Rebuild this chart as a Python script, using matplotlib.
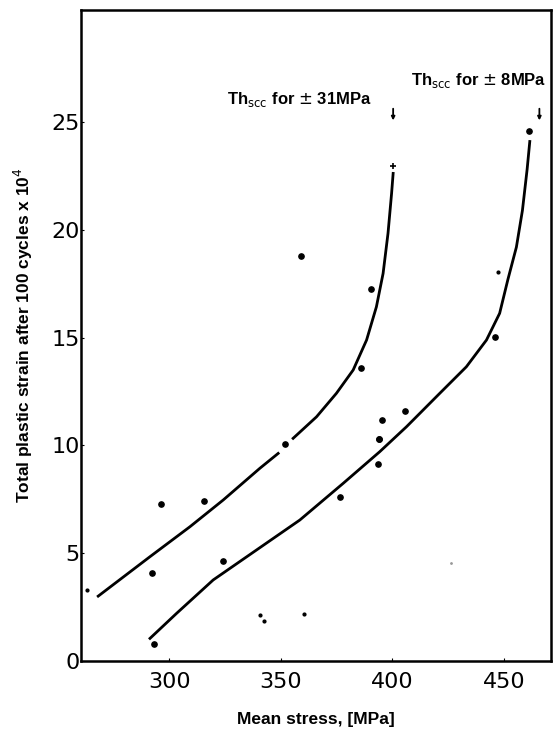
import matplotlib.pyplot as plt

# scattered test points (mean stress MPa, plastic strain x10^4)
big_x = [296.3, 315.5, 292.1, 324.2, 293.2, 376.4, 393.6, 394.0, 351.8, 394.0, 395.5, 405.5, 385.8, 390.3, 359.0, 446.1, 461.2]
big_y = [7.27, 7.44, 4.07, 4.62, 0.77, 7.59, 9.12, 10.3, 10.07, 10.3, 11.18, 11.6, 13.6, 17.27, 18.78, 15.04, 24.6]
small_x = [263.3, 340.7, 342.5, 360.3, 447.3]
small_y = [3.29, 2.15, 1.84, 2.18, 18.03]
speck_x = [426]
speck_y = [4.53]
plus_x = [400.3]
plus_y = [22.97]

# fitted curve for +-31 MPa (drawn in two pieces, broken near 352)
c1a_x = [268.2, 291.4, 309.3, 324.2, 340.6, 348.8]
c1a_y = [3.01, 4.84, 6.23, 7.47, 8.94, 9.63]
c1b_x = [355.5, 366.0, 374.9, 382.4, 388.4, 392.8, 395.8, 398.0, 399.6, 400.3]
c1b_y = [10.33, 11.33, 12.42, 13.5, 14.89, 16.43, 17.98, 19.84, 21.69, 22.62]

# fitted curve for +-8 MPa
c2_x = [291.4, 303.3, 319.7, 339.1, 358.5, 377.9, 394.3, 406.3, 421.2, 433.1, 442.1, 448.0, 451.7, 455.5, 458.2, 460.3, 461.5]
c2_y = [1.05, 2.21, 3.76, 5.15, 6.54, 8.24, 9.71, 10.87, 12.42, 13.65, 14.89, 16.13, 17.7, 19.2, 20.9, 22.8, 24.1]

xticks = [300, 350, 400, 450]
yticks = [0, 5, 10, 15, 20, 25]

fig = plt.figure(figsize=(5.56, 7.3), dpi=100)
ax = fig.add_axes([0.1457, 0.0945, 0.8453, 0.8918])

ax.plot(c1a_x, c1a_y, color='black', lw=2.0)
ax.plot(c1b_x, c1b_y, color='black', lw=2.0)
ax.plot(c2_x, c2_y, color='black', lw=2.0)
ax.plot(big_x, big_y, 'o', color='black', ms=3.8)
ax.plot(small_x, small_y, 'o', color='black', ms=2)
ax.plot(speck_x, speck_y, 'o', color='#999999', ms=1)
ax.plot(plus_x, plus_y, '+', color='black', ms=5, mew=1.2)

# threshold arrows
for xa in [400.3, 465.8]:
    ax.annotate('', xy=(xa, 24.95), xytext=(xa, 25.75),
                arrowprops=dict(arrowstyle='-|>', color='black', lw=1.3, mutation_scale=5))
ax.text(390.6, 26.07, r'Th$_{\rm scc}$ for $\pm$ 31MPa', ha='right', va='center',
        fontsize=12, family='Liberation Sans', fontweight='bold')
ax.text(469.0, 26.95, r'Th$_{\rm scc}$ for $\pm$ 8MPa', ha='right', va='center',
        fontsize=12, family='Liberation Sans', fontweight='bold')

ax.set_xlim(260.5, 471)
ax.set_ylim(0, 30.2)
ax.set_xticks(xticks)
ax.set_yticks(yticks)
ax.tick_params(direction='in', length=2, labelsize=16)
ax.tick_params(axis='x', pad=8)
ax.tick_params(axis='y', pad=1)
for s in ax.spines.values():
    s.set_linewidth(1.8)

ax.set_xlabel('Mean stress, [MPa]', fontsize=12.5, family='Liberation Sans',
              fontweight='bold', labelpad=14)
ax.set_ylabel(r'Total plastic strain after 100 cycles x 10$^4$', fontsize=12.5,
              family='Liberation Sans', fontweight='bold', labelpad=12)

fig.savefig('out.png', dpi=100)
